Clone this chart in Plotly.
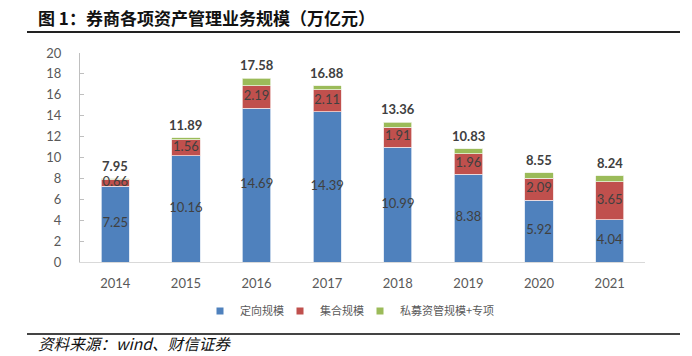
import plotly.graph_objects as go

years = ["2014", "2015", "2016", "2017", "2018", "2019", "2020", "2021"]
directed = [7.25, 10.16, 14.69, 14.39, 10.99, 8.38, 5.92, 4.04]
collective = [0.66, 1.56, 2.19, 2.11, 1.91, 1.96, 2.09, 3.65]
private_special = [0.04, 0.17, 0.70, 0.38, 0.46, 0.49, 0.54, 0.55]
totals = [7.95, 11.89, 17.58, 16.88, 13.36, 10.83, 8.55, 8.24]

names = ["定向规模", "集合规模", "私募资管规模+专项"]
colors = ["#4F81BD", "#C0504D", "#9BBB59"]
edges = ["#DCE6F2", "#F2DCDB", "#EBF1DE"]

W, H = 692, 356
L, R, T, B = 80, 47, 53, 94
pw, ph = W - L - R, H - T - B

def px_x(x):
    return (x - L) / pw

def px_y(y):
    return (H - B - y) / ph

num_family = "Lato, Liberation Sans, sans-serif"
lab_font = dict(family=num_family, size=13, color="#404040")

fig = go.Figure()
for vals, nm, col, ed in zip([directed, collective, private_special], names, colors, edges):
    fig.add_trace(go.Bar(x=years, y=vals, name=nm, marker_color=col,
                         marker_line=dict(color=ed, width=0.8),
                         legendgroup=nm, showlegend=False))

# small square legend entries
for nm, col in zip(names, colors):
    fig.add_trace(go.Scatter(x=[None], y=[None], mode="markers", name=nm, legendgroup=nm,
                             marker=dict(symbol="square", size=7, color=col)))
# spacer entries so the last legend label is not clipped
for _ in range(2):
    fig.add_trace(go.Scatter(x=[None], y=[None], mode="markers", name=" ",
                             marker=dict(size=1, color="rgba(0,0,0,0)")))

# segment labels placed at segment centres on the data scale
mid_dir = [d / 2 for d in directed]
mid_col = [d + c / 2 for d, c in zip(directed, collective)]
fig.add_trace(go.Scatter(x=years, y=mid_dir, mode="text", text=[f"{v:.2f}" for v in directed],
                         textfont=lab_font, showlegend=False, hoverinfo="skip"))
fig.add_trace(go.Scatter(x=years, y=mid_col, mode="text", text=[f"{v:.2f}" for v in collective],
                         textfont=lab_font, showlegend=False, hoverinfo="skip"))

for i, tot in enumerate(totals):
    fig.add_annotation(x=i, y=tot, text=f"<b>{tot:.2f}</b>", showarrow=False,
                       yanchor="middle", yshift=13,
                       font=dict(family=num_family, size=13, color="#404040"))

fig.add_annotation(xref="paper", yref="paper", x=px_x(36), y=px_y(17),
                   xanchor="left", yanchor="middle", showarrow=False,
                   text="<b>图 1：券商各项资产管理业务规模（万亿元）</b>",
                   font=dict(family="Noto Sans CJK SC", size=17, color="#111111"))
fig.add_annotation(xref="paper", yref="paper", x=px_x(36), y=px_y(356),
                   xanchor="left", yanchor="bottom", showarrow=False,
                   text="<i>资料来源：wind、财信证券</i>",
                   font=dict(family="Noto Sans CJK SC", size=15.6, color="#111111"))

fig.add_shape(type="line", xref="paper", yref="paper", x0=px_x(27), x1=px_x(680),
              y0=px_y(32), y1=px_y(32), line=dict(color="#222222", width=2))
fig.add_shape(type="line", xref="paper", yref="paper", x0=px_x(27), x1=px_x(680),
              y0=px_y(334), y1=px_y(334), line=dict(color="#444444", width=2))

fig.update_layout(
    width=W, height=H, autosize=False,
    margin=dict(l=L, r=R, t=T, b=B, autoexpand=False),
    barmode="stack", bargap=0.6,
    plot_bgcolor="white", paper_bgcolor="white",
    showlegend=True,
    legend=dict(orientation="h", x=px_x(200), xanchor="left", y=px_y(311), yanchor="middle",
                font=dict(family="Noto Sans CJK SC", size=11, color="#595959"),
                traceorder="normal", entrywidth=35, entrywidthmode="pixels",
                bgcolor="rgba(0,0,0,0)"),
    xaxis=dict(type="category", showline=True, linecolor="#D9D9D9", linewidth=1, ticks="",
               tickfont=dict(family=num_family, size=13, color="#595959"),
               ticklabelstandoff=9, showgrid=False),
    yaxis=dict(range=[0, 20], dtick=2, showline=True, linecolor="#BFBFBF", linewidth=1,
               ticks="inside", ticklen=4, tickcolor="#BFBFBF", showgrid=False, zeroline=False,
               tickfont=dict(family=num_family, size=13, color="#595959"),
               ticklabelstandoff=15),
)

fig.write_html("out.html", config={"displayModeBar": False},
               post_script="document.body.style.margin='0';")
